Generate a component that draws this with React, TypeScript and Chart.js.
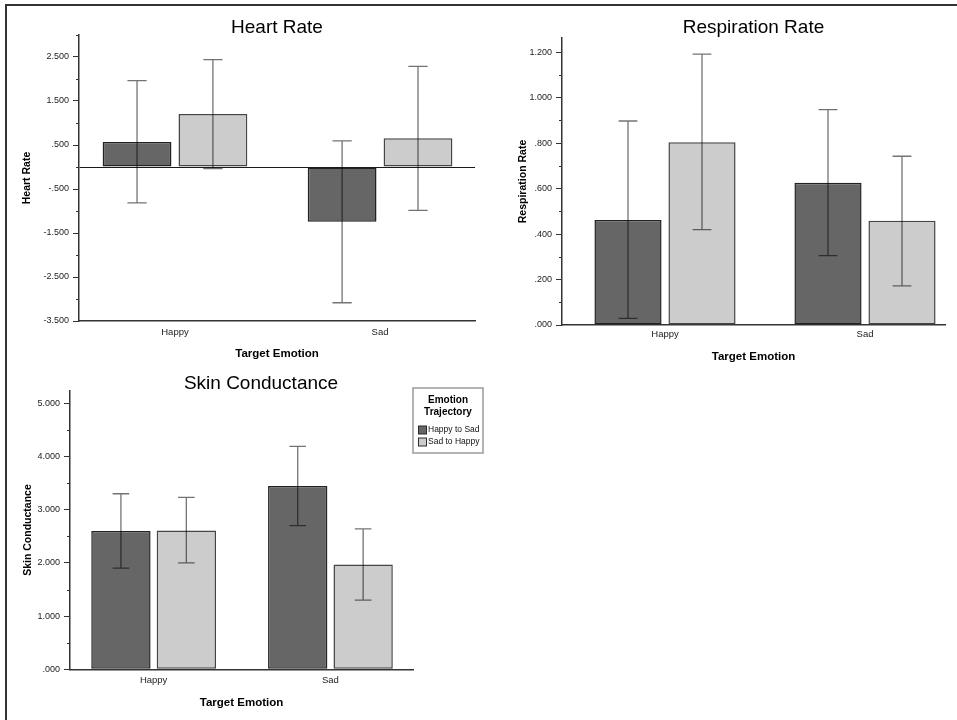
import React, { useEffect, useRef } from 'react';
import { Chart, registerables } from 'chart.js';

Chart.register(...registerables);

// ---------- data ----------
const CATEGORIES = ['Happy', 'Sad'];
const SERIES = ['Happy to Sad', 'Sad to Happy'];
const LEGEND_TITLE = ['Emotion', 'Trajectory'];
const X_TITLE = 'Target Emotion';

// Heart Rate
const HR_HAPPY_TO_SAD = [0.571, -1.246];
const HR_SAD_TO_HAPPY = [1.206, 0.654];
const HR_HTS_LOW = [-0.814, -3.085];
const HR_HTS_HIGH = [1.963, 0.593];
const HR_STH_LOW = [-0.035, -0.988];
const HR_STH_HIGH = [2.44, 2.288];
const HR_Y_RANGE = [-3.5, 3.0];
const HR_Y_TICKS = [-3.5, -2.5, -1.5, -0.5, 0.5, 1.5, 2.5];
const HR_Y_LABELS = ['-3.500', '-2.500', '-1.500', '-.500', '.500', '1.500', '2.500'];
const HR_Y_MINOR = [-3, -2, -1, 0, 1, 2, 3];

// Respiration Rate
const RR_HAPPY_TO_SAD = [0.462, 0.626];
const RR_SAD_TO_HAPPY = [0.804, 0.458];
const RR_HTS_LOW = [0.029, 0.305];
const RR_HTS_HIGH = [0.897, 0.947];
const RR_STH_LOW = [0.419, 0.172];
const RR_STH_HIGH = [1.191, 0.742];
const RR_Y_RANGE = [0, 1.262];
const RR_Y_TICKS = [0, 0.2, 0.4, 0.6, 0.8, 1.0, 1.2];
const RR_Y_LABELS = ['.000', '.200', '.400', '.600', '.800', '1.000', '1.200'];
const RR_Y_MINOR = [0.1, 0.3, 0.5, 0.7, 0.9, 1.1];

// Skin Conductance
const SC_HAPPY_TO_SAD = [2.6, 3.445];
const SC_SAD_TO_HAPPY = [2.61, 1.97];
const SC_HTS_LOW = [1.9, 2.7];
const SC_HTS_HIGH = [3.3, 4.19];
const SC_STH_LOW = [2.0, 1.3];
const SC_STH_HIGH = [3.23, 2.64];
const SC_Y_RANGE = [0, 5.237];
const SC_Y_TICKS = [0, 1, 2, 3, 4, 5];
const SC_Y_LABELS = ['.000', '1.000', '2.000', '3.000', '4.000', '5.000'];
const SC_Y_MINOR = [0.5, 1.5, 2.5, 3.5, 4.5];

// ---------- styles ----------
const FONT = 'Arial, "Liberation Sans", Helvetica, sans-serif';
const FILLS = ['#666666', '#cccccc'];
const BORDERS = ['#222222', '#454545'];
const AXIS_COLOR = '#333333';

const near = (a: number, b: number) => Math.abs(a - b) < 1e-6;

const errorBars = {
  id: 'errorBars',
  afterDatasetsDraw(chart: any) {
    const ctx = chart.ctx;
    const ys = chart.scales.y;
    chart.data.datasets.forEach((ds: any, i: number) => {
      const meta = chart.getDatasetMeta(i);
      meta.data.forEach((bar: any, j: number) => {
        const { x, width } = bar.getProps(['x', 'width'], true);
        const yl = ys.getPixelForValue(ds.errLow[j]);
        const yh = ys.getPixelForValue(ds.errHigh[j]);
        const cap = width * 0.28;
        ctx.save();
        ctx.strokeStyle = 'rgba(0,0,0,0.55)';
        ctx.lineWidth = 1.3;
        ctx.beginPath();
        ctx.moveTo(x, yh);
        ctx.lineTo(x, yl);
        ctx.moveTo(x - cap / 2, yh);
        ctx.lineTo(x + cap / 2, yh);
        ctx.moveTo(x - cap / 2, yl);
        ctx.lineTo(x + cap / 2, yl);
        ctx.stroke();
        ctx.restore();
      });
    });
  },
};

const minorTicks = {
  id: 'minorTicks',
  afterDraw(chart: any, _args: any, opts: any) {
    const s = chart.scales.y;
    const ctx = chart.ctx;
    const values: number[] = opts.values || [];
    ctx.save();
    ctx.strokeStyle = AXIS_COLOR;
    ctx.lineWidth = 1;
    ctx.beginPath();
    values.forEach((v) => {
      const py = Math.round(s.getPixelForValue(v)) + 0.5;
      ctx.moveTo(s.right - 3, py);
      ctx.lineTo(s.right, py);
    });
    ctx.stroke();
    ctx.restore();
  },
};

const boxLegend = {
  id: 'boxLegend',
  afterDraw(chart: any, _args: any, opts: any) {
    if (!opts || !opts.display) return;
    const ctx = chart.ctx;
    const area = chart.chartArea;
    const x = area.right + opts.dx;
    const y = area.top + opts.dy;
    const w = opts.width;
    const h = opts.height;
    ctx.save();
    ctx.strokeStyle = '#9a9a9a';
    ctx.lineWidth = 1.5;
    ctx.strokeRect(x, y, w, h);
    ctx.fillStyle = '#000';
    ctx.textAlign = 'center';
    ctx.textBaseline = 'middle';
    ctx.font = `bold 10px ${FONT}`;
    LEGEND_TITLE.forEach((t, i) => ctx.fillText(t, x + w / 2, y + 12.7 + i * 11.3));
    ctx.font = `8.5px ${FONT}`;
    ctx.textAlign = 'left';
    chart.data.datasets.forEach((ds: any, i: number) => {
      const cy = y + 42 + i * 12;
      ctx.fillStyle = ds.backgroundColor;
      ctx.fillRect(x + 5.5, cy - 4, 8, 8);
      ctx.strokeStyle = '#2b2b2b';
      ctx.lineWidth = 1;
      ctx.strokeRect(x + 5.5, cy - 4, 8, 8);
      ctx.fillStyle = '#111';
      ctx.fillText(ds.label, x + 15, cy);
    });
    ctx.restore();
  },
};

type Panel = {
  title: string;
  yTitle: string;
  series: number[][];
  lows: number[][];
  highs: number[][];
  yRange: number[];
  yTicks: number[];
  yLabels: string[];
  yMinor: number[];
  xRange: number[];
  zeroLine?: boolean;
  legend?: boolean;
  box: { left: number; top: number; w: number; h: number };
  yAxisW: number;
  xAxisH: number;
  padRight: number;
  titleTop: number;
  titleBottom: number;
  titleFull: boolean;
  yTitlePad: number;
  xTitlePad: number;
  xTickPad: number;
  rightAxisW?: number;
};

const PANELS: Panel[] = [
  {
    title: 'Heart Rate',
    yTitle: 'Heart Rate',
    series: [HR_HAPPY_TO_SAD, HR_SAD_TO_HAPPY],
    lows: [HR_HTS_LOW, HR_STH_LOW],
    highs: [HR_HTS_HIGH, HR_STH_HIGH],
    yRange: HR_Y_RANGE,
    yTicks: HR_Y_TICKS,
    yLabels: HR_Y_LABELS,
    yMinor: HR_Y_MINOR,
    xRange: [-0.468, 1.463],
    zeroLine: true,
    box: { left: 0, top: 0, w: 480, h: 370 },
    yAxisW: 79,
    xAxisH: 49,
    padRight: 5,
    titleTop: 23.25,
    titleBottom: 2.25,
    titleFull: false,
    yTitlePad: 21.75,
    xTitlePad: 10.25,
    xTickPad: 5.3,
  },
  {
    title: 'Respiration Rate',
    yTitle: 'Respiration Rate',
    series: [RR_HAPPY_TO_SAD, RR_SAD_TO_HAPPY],
    lows: [RR_HTS_LOW, RR_STH_LOW],
    highs: [RR_HTS_HIGH, RR_STH_HIGH],
    yRange: RR_Y_RANGE,
    yTicks: RR_Y_TICKS,
    yLabels: RR_Y_LABELS,
    yMinor: RR_Y_MINOR,
    xRange: [-0.515, 1.4],
    box: { left: 480, top: 0, w: 477, h: 370 },
    yAxisW: 82,
    xAxisH: 45,
    padRight: 12,
    titleTop: 23.25,
    titleBottom: 5.25,
    titleFull: false,
    yTitlePad: 37.5,
    xTitlePad: 7.25,
    xTickPad: 4,
  },
  {
    title: 'Skin Conductance',
    yTitle: 'Skin Conductance',
    series: [SC_HAPPY_TO_SAD, SC_SAD_TO_HAPPY],
    lows: [SC_HTS_LOW, SC_STH_LOW],
    highs: [SC_HTS_HIGH, SC_STH_HIGH],
    yRange: SC_Y_RANGE,
    yTicks: SC_Y_TICKS,
    yLabels: SC_Y_LABELS,
    yMinor: SC_Y_MINOR,
    xRange: [-0.473, 1.467],
    legend: true,
    box: { left: 0, top: 370, w: 522, h: 350 },
    yAxisW: 70,
    xAxisH: 50.7,
    padRight: 0,
    titleTop: 9.25,
    titleBottom: 1.95,
    titleFull: true,
    yTitlePad: 22.75,
    xTitlePad: 11.55,
    xTickPad: 5,
    rightAxisW: 109,
  },
];

function buildConfig(p: Panel): any {
  const allTicks = [...p.yTicks, ...p.yMinor].sort((a, b) => a - b);
  const labelFor = (v: number) => {
    const k = p.yTicks.findIndex((t) => near(t, v));
    return k >= 0 ? p.yLabels[k] : '';
  };
  const isMajor = (v: number) => p.yTicks.some((t) => near(t, v));

  const scales: any = {
    x: {
      type: 'linear',
      bounds: 'data',
      offset: false,
      min: p.xRange[0],
      max: p.xRange[1],
      afterBuildTicks: (s: any) => {
        s.ticks = CATEGORIES.map((_, i) => ({ value: i }));
      },
      afterFit: (s: any) => {
        s.height = p.xAxisH;
      },
      grid: { display: false, drawTicks: false },
      border: { display: true, color: AXIS_COLOR, width: 1.5 },
      ticks: {
        autoSkip: false,
        maxRotation: 0,
        minRotation: 0,
        padding: p.xTickPad,
        color: '#222',
        font: { family: FONT, size: 9.5 },
        callback: (v: number) => CATEGORIES[Math.round(v)] ?? '',
      },
      title: {
        display: true,
        text: X_TITLE,
        color: '#000',
        font: { family: FONT, size: 11.5, weight: 'bold', lineHeight: 1 },
        padding: { top: 0, bottom: p.xTitlePad },
      },
    },
    y: {
      type: 'linear',
      bounds: 'data',
      min: p.yRange[0],
      max: p.yRange[1],
      afterBuildTicks: (s: any) => {
        s.ticks = allTicks.map((v) => ({ value: v }));
      },
      afterFit: (s: any) => {
        s.width = p.yAxisW;
      },
      grid: {
        display: true,
        drawOnChartArea: !!p.zeroLine,
        drawTicks: true,
        tickLength: 6,
        tickWidth: 1,
        lineWidth: 1,
        color: (c: any) => (p.zeroLine && c.tick && near(c.tick.value, 0) ? '#1a1a1a' : 'rgba(0,0,0,0)'),
        tickColor: (c: any) => (c.tick && isMajor(c.tick.value) ? AXIS_COLOR : 'rgba(0,0,0,0)'),
      },
      border: { display: true, color: AXIS_COLOR, width: 1.5 },
      ticks: {
        autoSkip: false,
        padding: 4,
        color: '#222',
        font: { family: FONT, size: 9 },
        callback: (v: number) => labelFor(v),
      },
      title: {
        display: true,
        text: p.yTitle,
        color: '#000',
        font: { family: FONT, size: 10.5, weight: 'bold', lineHeight: 1 },
        padding: { top: p.yTitlePad, bottom: 0 },
      },
    },
  };
  if (p.rightAxisW) {
    scales.r = {
      type: 'linear',
      position: 'right',
      display: true,
      grid: { display: false, drawTicks: false },
      border: { display: false },
      ticks: { display: false },
      afterFit: (s: any) => {
        s.width = p.rightAxisW;
      },
    };
  }

  return {
    type: 'bar',
    data: {
      datasets: p.series.map((vals, s) => ({
        label: SERIES[s],
        data: vals.map((v, i) => ({ x: i, y: v })),
        backgroundColor: FILLS[s],
        borderColor: BORDERS[s],
        borderWidth: 1.5,
        borderSkipped: false,
        categoryPercentage: 0.74,
        barPercentage: 0.907,
        errLow: p.lows[s],
        errHigh: p.highs[s],
      })),
    },
    options: {
      animation: false,
      responsive: false,
      maintainAspectRatio: false,
      devicePixelRatio: 1,
      events: [],
      layout: { padding: { left: 0, right: p.padRight, top: 0, bottom: 0 }, autoPadding: false },
      plugins: {
        legend: { display: false },
        tooltip: { enabled: false },
        title: {
          display: true,
          text: p.title,
          fullSize: p.titleFull,
          color: '#000',
          font: { family: FONT, size: 19, weight: 'normal', lineHeight: 0.5 },
          padding: { top: p.titleTop, bottom: p.titleBottom },
        },
        minorTicks: { values: p.yMinor },
        boxLegend: { display: !!p.legend, dx: 0, dy: -2.7, width: 70, height: 65 },
      },
      scales,
    },
    plugins: [errorBars, minorTicks, boxLegend],
  };
}

function PanelChart({ p }: { p: Panel }) {
  const ref = useRef<HTMLCanvasElement>(null);
  useEffect(() => {
    if (!ref.current) return;
    const chart = new Chart(ref.current, buildConfig(p));
    return () => chart.destroy();
  }, [p]);
  return (
    <canvas
      ref={ref}
      width={p.box.w}
      height={p.box.h}
      style={{ position: 'absolute', left: p.box.left, top: p.box.top, width: p.box.w, height: p.box.h }}
    />
  );
}

export default function App() {
  return (
    <div
      style={{
        position: 'absolute',
        left: 0,
        top: 0,
        width: 957,
        height: 720,
        overflow: 'hidden',
        background: '#fff',
      }}
    >
      <div
        style={{
          position: 'absolute',
          left: 5,
          top: 4,
          width: 1000,
          height: 800,
          borderLeft: '2px solid #333',
          borderTop: '2px solid #333',
        }}
      />
      {PANELS.map((p, i) => (
        <PanelChart key={i} p={p} />
      ))}
    </div>
  );
}
